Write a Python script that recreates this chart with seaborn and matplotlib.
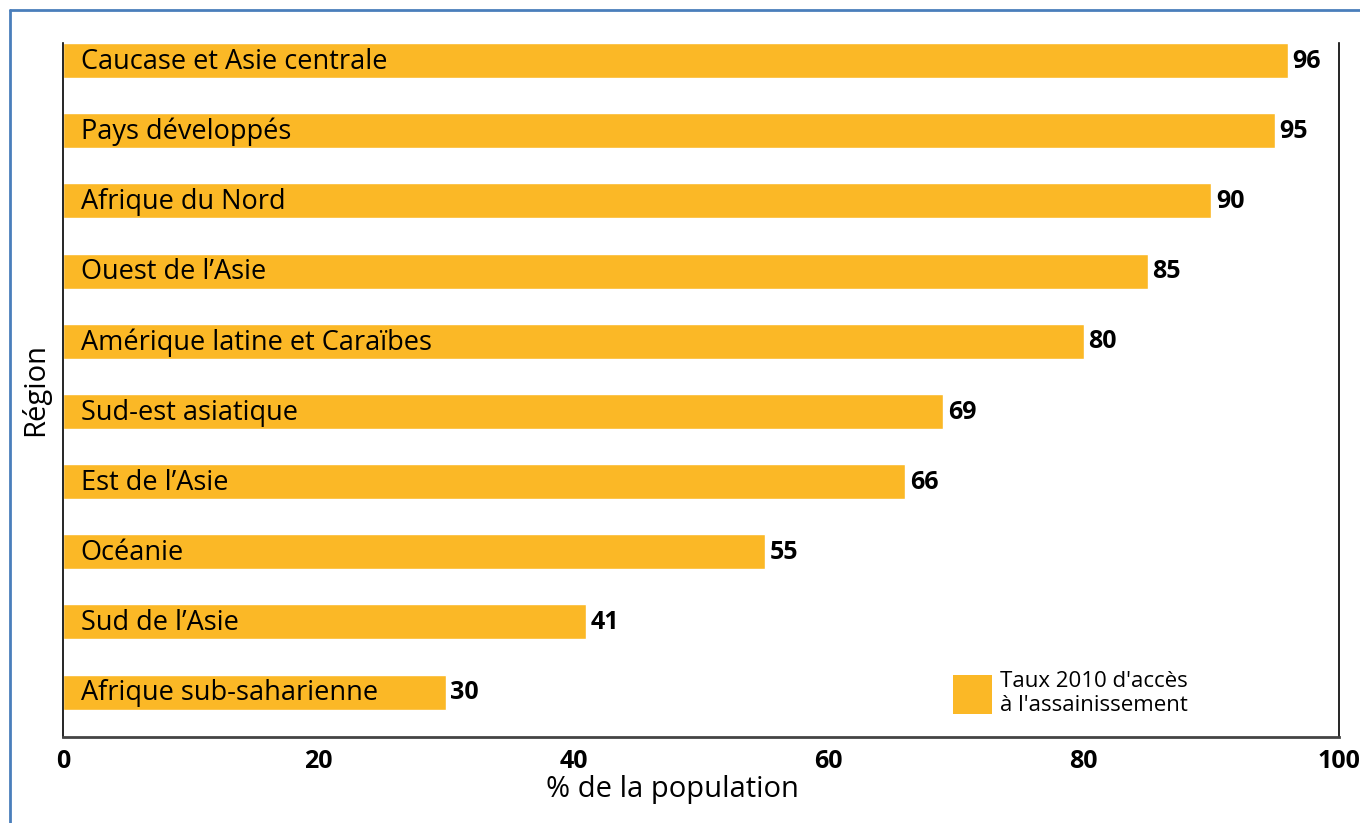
import matplotlib
matplotlib.use("Agg")
import matplotlib.pyplot as plt
import seaborn as sns
import pandas as pd
from matplotlib.lines import Line2D
from matplotlib.patches import Patch

categories = ["Caucase et Asie centrale", "Pays développés", "Afrique du Nord",
              "Ouest de l\u2019Asie", "Amérique latine et Caraïbes", "Sud-est asiatique",
              "Est de l\u2019Asie", "Océanie", "Sud de l\u2019Asie", "Afrique sub-saharienne"]
values = [96, 95, 90, 85, 80, 69, 66, 55, 41, 30]
xticks = [0, 20, 40, 60, 80, 100]
legend_label = "Taux 2010 d'accès\nà l'assainissement"
xlabel = "% de la population"
ylabel = "Région"

BAR = "#FBB826"
BLUE = "#4A7EBB"

sns.set_theme(style="white")
plt.rcParams['font.family'] = ['Open Sans', 'DejaVu Sans']
plt.rcParams['text.color'] = 'black'
plt.rcParams['axes.labelcolor'] = 'black'
plt.rcParams['xtick.color'] = 'black'

df = pd.DataFrame({"region": categories, "value": values})

fig = plt.figure(figsize=(13.6, 8.23), dpi=100)
ax = fig.add_axes([63/1360, 1 - 737/823, (1339-63)/1360, (737-43)/823])

sns.barplot(data=df, x="value", y="region", color=BAR, saturation=1, width=0.5, ax=ax)

ax.set_xlim(0, 100)
ax.set_ylim(9.64, -0.25)
ax.set_xticks(xticks)
ax.set_xticklabels([str(t) for t in xticks], fontsize=18, fontweight="bold")
ax.set_yticks([])
ax.tick_params(axis="x", length=0, pad=9)

for i, (c, v) in enumerate(zip(categories, values)):
    ax.text(1.4, i + 0.02, c, va="center", ha="left", fontsize=19.5, color="black")
    ax.text(v + 0.35, i + 0.01, str(v), va="center", ha="left", fontsize=18,
            fontweight="bold", color="black")

ax.set_xlabel(xlabel, fontsize=21)
ax.set_ylabel(ylabel, fontsize=21)
ax.xaxis.set_label_coords((672-63)/1276, -(790-737)/694)
ax.yaxis.set_label_coords(-(63-35)/1276, 0.5)
ax.xaxis.label.set_va("center")
ax.yaxis.label.set_va("center")

for s in ["left", "right", "bottom"]:
    ax.spines[s].set_visible(True)
ax.spines["top"].set_visible(False)
ax.spines["left"].set_color("black")
ax.spines["left"].set_linewidth(1.2)
ax.spines["right"].set_color("black")
ax.spines["right"].set_linewidth(1.2)
ax.spines["bottom"].set_color("#444444")
ax.spines["bottom"].set_linewidth(2)

handle = Patch(facecolor=BAR, edgecolor="none")
ax.legend([handle], [legend_label], loc="lower left",
          bbox_to_anchor=((942-63)/1276, (737-727)/694),
          frameon=False, fontsize=16, handlelength=1.75, handleheight=2.3,
          handletextpad=0.35, borderpad=0, labelspacing=0)

fig.add_artist(Line2D([10/1360, 10/1360], [0, 1 - 10/823], color=BLUE, lw=2,
                      transform=fig.transFigure))
fig.add_artist(Line2D([10/1360, 1], [1 - 10/823, 1 - 10/823], color=BLUE, lw=2,
                      transform=fig.transFigure))

fig.savefig("out.png", dpi=100)
